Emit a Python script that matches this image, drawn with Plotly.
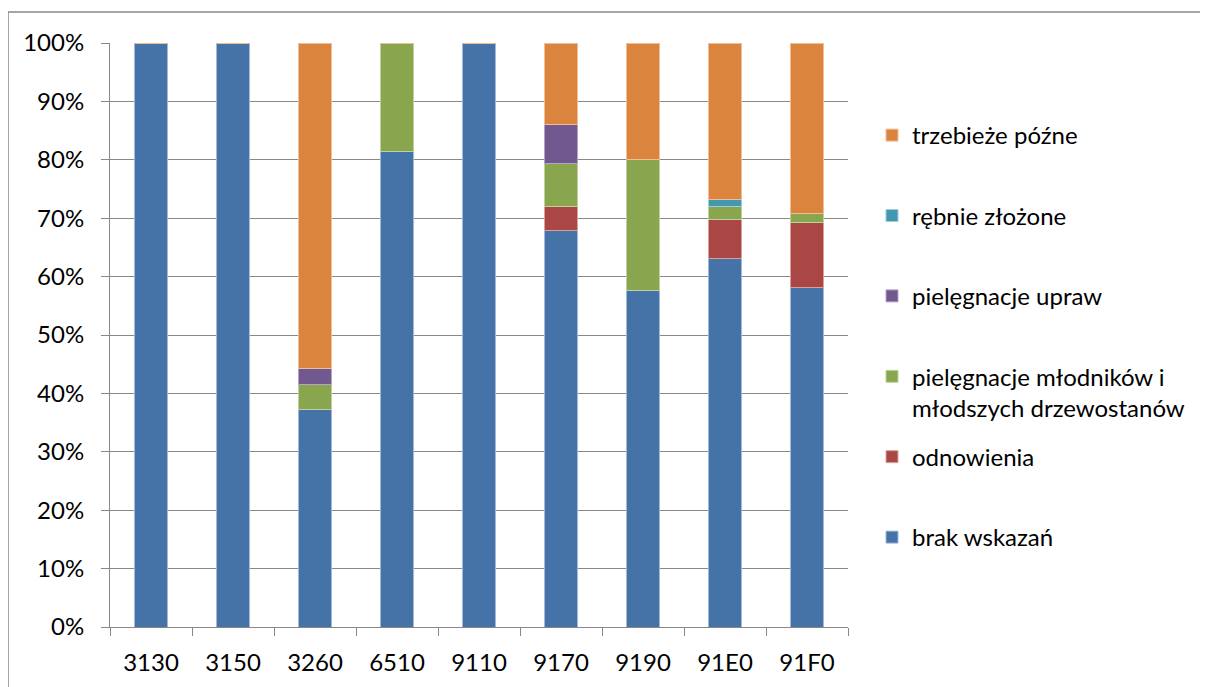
import plotly.graph_objects as go

categories = ["3130", "3150", "3260", "6510", "9110", "9170", "9190", "91E0", "91F0"]

brak_wskazan = [100, 100, 37.2, 81.4, 100, 67.9, 57.7, 63.1, 58.2]
odnowienia = [0, 0, 0, 0, 0, 4.1, 0, 6.7, 11.0]
piel_mlodnikow = [0, 0, 4.4, 18.6, 0, 7.3, 22.4, 2.2, 1.6]
piel_upraw = [0, 0, 2.7, 0, 0, 6.7, 0, 0, 0]
rebnie_zlozone = [0, 0, 0, 0, 0, 0, 0, 1.2, 0]
trzebieze_pozne = [0, 0, 55.7, 0, 0, 14.0, 19.9, 26.8, 29.2]

series = [
    ("brak wskazań", brak_wskazan, "#4572A7", "rgba(160,185,220,1)"),
    ("odnowienia", odnowienia, "#AA4643", "rgba(220,160,158,1)"),
    ("pielęgnacje młodników i<br>młodszych drzewostanów", piel_mlodnikow, "#89A54E", "rgba(190,210,160,1)"),
    ("pielęgnacje upraw", piel_upraw, "#71588F", "rgba(180,165,200,1)"),
    ("rębnie złożone", rebnie_zlozone, "#4198AF", "rgba(160,205,220,1)"),
    ("trzebieże późne", trzebieze_pozne, "#DB843D", "rgba(240,190,150,1)"),
]

FONT = "Lato"
FS = 24
OX, OY = 8, 8          # page body offset
W, H = 1208 - OX, 687 - OY
L, R, T, B = 110 - OX, 848 - OX, 43 - OY, 627 - OY

def px_x(x):
    return (x - OX - L) / (R - L)

def px_y(y):
    return (B - (y - OY)) / (B - T)

fig = go.Figure()
n = len(series)
for i, (name, vals, col, edge) in enumerate(series):
    label = name if "<br>" in name else name + "<br> "
    fig.add_trace(go.Bar(
        x=categories, y=vals, name=label,
        marker=dict(color=col, line=dict(color=edge, width=1)),
        legendgroup=f"g{i}",
        legendrank=(n - i) * 10,
        width=0.4,
    ))

fig.update_layout(
    barmode="stack",
    width=W, height=H,
    margin=dict(l=L, r=W - R, t=T, b=H - B, pad=0),
    paper_bgcolor="white", plot_bgcolor="white",
    font=dict(family=FONT, size=FS, color="#000000"),
    legend=dict(
        x=px_x(872), y=px_y(113),
        xanchor="left", yanchor="top",
        traceorder="grouped",
        tracegroupgap=15,
        valign="top",
        font=dict(family=FONT, size=FS, color="#000000"),
        itemwidth=30,
        bgcolor="rgba(0,0,0,0)",
    ),
    xaxis=dict(
        type="category",
        showgrid=False,
        ticks="outside", ticklen=8, tickcolor="#888888", tickwidth=1,
        tickson="boundaries",
        showline=True, linecolor="#888888", linewidth=1,
        tickfont=dict(family=FONT, size=FS),
        ticklabelstandoff=14,
    ),
    yaxis=dict(
        range=[0, 100],
        tickvals=[0, 10, 20, 30, 40, 50, 60, 70, 80, 90, 100],
        ticktext=["0%", "10%", "20%", "30%", "40%", "50%", "60%", "70%", "80%", "90%", "100%"],
        showgrid=True, gridcolor="#888888", gridwidth=1,
        ticks="outside", ticklen=8, tickcolor="#888888", tickwidth=1,
        showline=True, linecolor="#888888", linewidth=1,
        zeroline=False,
        tickfont=dict(family=FONT, size=FS),
        ticklabelstandoff=12,
    ),
    shapes=[dict(
        type="rect", xref="paper", yref="paper",
        x0=px_x(8), x1=px_x(1212),
        y0=px_y(720), y1=px_y(12),
        line=dict(color="#888888", width=1.5), layer="below",
    )],
)

fig.write_html("out.html")
